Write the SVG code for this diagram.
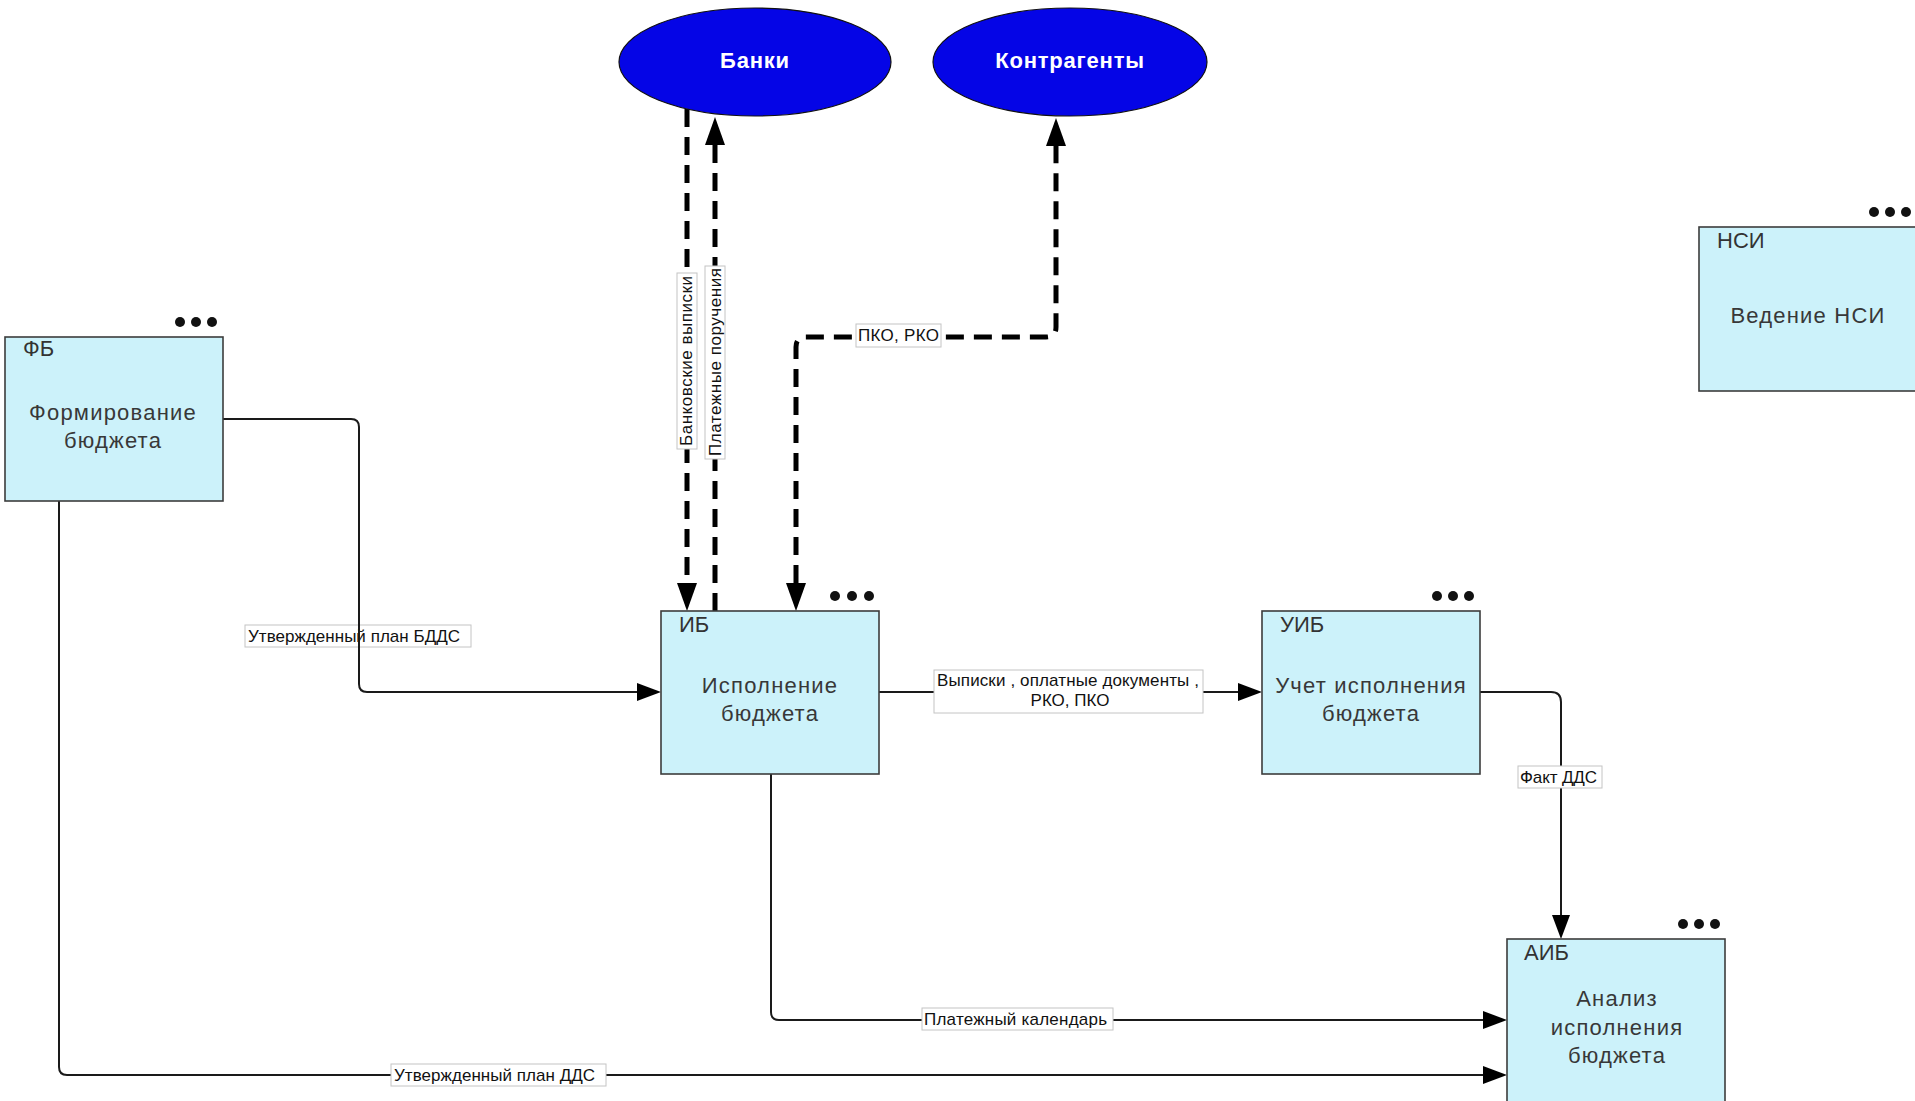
<svg xmlns="http://www.w3.org/2000/svg" width="1915" height="1101" viewBox="0 0 1915 1101">
<style>
.box{fill:#ccf2fa;stroke:#3c3c3c;stroke-width:1.6}
.ell{fill:#0505e6;stroke:#111;stroke-width:1.2}
.etxt{font-family:"Liberation Sans",Arial,sans-serif;font-size:22px;font-weight:bold;fill:#fff;text-anchor:middle;letter-spacing:0.8px}
.id{font-family:"Liberation Sans",Arial,sans-serif;font-size:22px;fill:#333}
.name{font-family:"Liberation Sans",Arial,sans-serif;font-size:22px;fill:#383838;text-anchor:middle;letter-spacing:1.2px}
.dot{fill:#111}
.solid{fill:none;stroke:#1a1a1a;stroke-width:2}
.dash{fill:none;stroke:#000;stroke-width:5;stroke-dasharray:18 10}
.lbox{fill:#fff;stroke:#c4c4c4;stroke-width:1}
.lt{font-family:"Liberation Sans",Arial,sans-serif;font-size:17px;fill:#111}
</style>
<defs>
<marker id="a" markerUnits="userSpaceOnUse" markerWidth="24" markerHeight="18" refX="0" refY="9" orient="auto" viewBox="0 0 24 18"><path d="M0,0 L24,9 L0,18 z" fill="#000"/></marker>
<marker id="ad" markerUnits="userSpaceOnUse" markerWidth="28" markerHeight="20" refX="0" refY="10" orient="auto" viewBox="0 0 28 20"><path d="M0,0 L28,10 L0,20 z" fill="#000"/></marker>
<marker id="ads" markerUnits="userSpaceOnUse" markerWidth="28" markerHeight="20" refX="0" refY="10" orient="auto-start-reverse" viewBox="0 0 28 20"><path d="M0,0 L28,10 L0,20 z" fill="#000"/></marker>
</defs>
<rect width="1915" height="1101" fill="#fff"/>

<g id="connectors">
  <g id="c-fb-ib">
    <rect class="lbox" x="245" y="625" width="226" height="22"/>
    <text class="lt" x="248" y="642" textLength="212">Утвержденный план БДДС</text>
    <path class="solid" d="M223,419 H351 Q359,419 359,427 V684 Q359,692 367,692 H637" marker-end="url(#a)"/>
  </g>
  <g id="c-fb-aib">
    <path class="solid" d="M59,501 V1067 Q59,1075 67,1075 H1483" marker-end="url(#a)"/>
    <rect class="lbox" x="391" y="1064" width="215" height="22"/>
    <text class="lt" x="394" y="1081" textLength="201">Утвержденный план ДДС</text>
  </g>
  <g id="c-ib-aib">
    <path class="solid" d="M771,774 V1012 Q771,1020 779,1020 H1483" marker-end="url(#a)"/>
    <rect class="lbox" x="922" y="1008" width="191" height="22"/>
    <text class="lt" x="924" y="1025" textLength="183">Платежный календарь</text>
  </g>
  <g id="c-ib-uib">
    <path class="solid" d="M879,692 H1238" marker-end="url(#a)"/>
    <rect class="lbox" x="934" y="670" width="269" height="43"/>
    <text class="lt" x="937" y="686" textLength="262">Выписки , оплатные документы ,</text>
    <text class="lt" x="1070" y="706" text-anchor="middle">РКО, ПКО</text>
  </g>
  <g id="c-uib-aib">
    <path class="solid" d="M1480,692 H1551 Q1561,692 1561,702 V915" marker-end="url(#a)"/>
    <rect class="lbox" x="1518" y="766" width="84" height="22"/>
    <text class="lt" x="1520" y="783" textLength="77">Факт ДДС</text>
  </g>
  <g id="c-bank-ib">
    <path class="dash" d="M687,109 V583" marker-end="url(#ad)"/>
    <rect class="lbox" x="677" y="273" width="20" height="176"/>
    <text class="lt" transform="translate(692,361) rotate(-90)" text-anchor="middle" textLength="170">Банковские выписки</text>
  </g>
  <g id="c-ib-bank">
    <path class="dash" d="M715,611 V145" marker-end="url(#ad)"/>
    <rect class="lbox" x="705" y="266" width="20" height="193"/>
    <text class="lt" transform="translate(721,362) rotate(-90)" text-anchor="middle" textLength="188">Платежные поручения</text>
  </g>
  <g id="c-kontr-ib">
    <path class="dash" d="M796,583 V347 Q796,337 806,337 H1046 Q1056,337 1056,327 V146" marker-start="url(#ads)" marker-end="url(#ad)"/>
    <rect class="lbox" x="856" y="324" width="85" height="23"/>
    <text class="lt" x="858" y="341" textLength="81">ПКО, РКО</text>
  </g>
</g>

<g id="banki">
  <ellipse class="ell" cx="755" cy="62" rx="136" ry="54"/>
  <text class="etxt" x="755" y="68">Банки</text>
</g>
<g id="kontragenty">
  <ellipse class="ell" cx="1070" cy="62" rx="137" ry="54"/>
  <text class="etxt" x="1070" y="68">Контрагенты</text>
</g>

<g id="fb">
  <rect class="box" x="5" y="337" width="218" height="164"/>
  <circle class="dot" cx="180" cy="322" r="5"/><circle class="dot" cx="196" cy="322" r="5"/><circle class="dot" cx="212" cy="322" r="5"/>
  <text class="id" x="23" y="356">ФБ</text>
  <text class="name" x="113" y="420">Формирование</text>
  <text class="name" x="113" y="448">бюджета</text>
</g>
<g id="ib">
  <rect class="box" x="661" y="611" width="218" height="163"/>
  <circle class="dot" cx="835" cy="596" r="5"/><circle class="dot" cx="852" cy="596" r="5"/><circle class="dot" cx="869" cy="596" r="5"/>
  <text class="id" x="679" y="632">ИБ</text>
  <text class="name" x="770" y="693">Исполнение</text>
  <text class="name" x="770" y="721">бюджета</text>
</g>
<g id="uib">
  <rect class="box" x="1262" y="611" width="218" height="163"/>
  <circle class="dot" cx="1437" cy="596" r="5"/><circle class="dot" cx="1453" cy="596" r="5"/><circle class="dot" cx="1469" cy="596" r="5"/>
  <text class="id" x="1280" y="632">УИБ</text>
  <text class="name" x="1371" y="693">Учет исполнения</text>
  <text class="name" x="1371" y="721">бюджета</text>
</g>
<g id="aib">
  <rect class="box" x="1507" y="939" width="218" height="170"/>
  <circle class="dot" cx="1683" cy="924" r="5"/><circle class="dot" cx="1699" cy="924" r="5"/><circle class="dot" cx="1715" cy="924" r="5"/>
  <text class="id" x="1524" y="960">АИБ</text>
  <text class="name" x="1617" y="1006">Анализ</text>
  <text class="name" x="1617" y="1035">исполнения</text>
  <text class="name" x="1617" y="1063">бюджета</text>
</g>
<g id="nsi">
  <rect class="box" x="1699" y="227" width="230" height="164"/>
  <circle class="dot" cx="1874" cy="212" r="5"/><circle class="dot" cx="1890" cy="212" r="5"/><circle class="dot" cx="1906" cy="212" r="5"/>
  <text class="id" x="1717" y="248">НСИ</text>
  <text class="name" x="1808" y="323">Ведение НСИ</text>
</g>
</svg>
